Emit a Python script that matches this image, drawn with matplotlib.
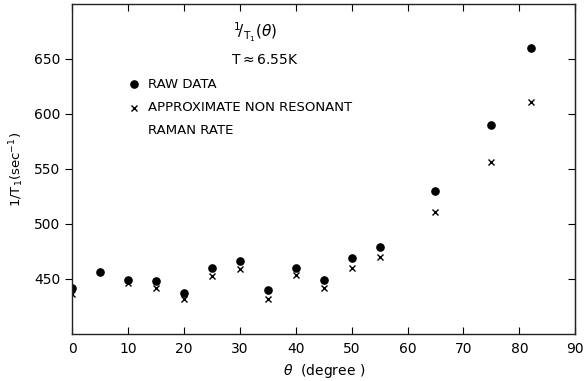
import matplotlib
matplotlib.use('Agg')
import matplotlib.pyplot as plt

# values
theta_raw = [0, 5, 10, 15, 20, 25, 30, 35, 40, 45, 50, 55, 65, 75, 82]
rate_raw = [442, 456, 449, 448, 437.5, 460, 466, 440, 460, 449, 469, 479, 530, 590, 660]

theta_raman = [0, 10, 15, 20, 25, 30, 35, 40, 45, 50, 55, 65, 75, 82]
rate_raman = [436, 446, 442, 432, 453, 459.5, 432, 454, 441.5, 460, 470, 510.5, 556.7, 611]

xticks = [0, 10, 20, 30, 40, 50, 60, 70, 80, 90]
yticks = [450, 500, 550, 600, 650]

plt.rcParams['font.family'] = ['DejaVu Sans']
plt.rcParams['mathtext.fontset'] = 'dejavusans'

fig = plt.figure(figsize=(5.87, 3.81), dpi=100)
ax = fig.add_axes([0.1227, 0.1234, 0.8573, 0.8661])

ax.plot(theta_raw, rate_raw, 'o', color='black', markersize=5.2, linestyle='none')
ax.plot(theta_raman, rate_raman, 'x', color='black', markersize=4, markeredgewidth=1.0, linestyle='none')

ax.set_xlim(0, 90)
ax.set_ylim(400, 700)
ax.set_xticks(xticks)
ax.set_yticks(yticks)
ax.tick_params(axis='x', direction='in', top=True, length=5, labelsize=10, pad=6)
ax.tick_params(axis='y', direction='out', length=5, labelsize=10)

# right side ticks point inward
right = ax.secondary_yaxis('right')
right.set_yticks(yticks)
right.tick_params(direction='in', length=5, labelright=False)

for sp in ax.spines.values():
    sp.set_linewidth(1.0)
    sp.set_color('#222222')

ax.set_xlabel(r'$\theta$  (degree )', fontsize=10, labelpad=4)
ax.set_ylabel(r'1/T$_1$(sec$^{-1}$)', fontsize=9.5, labelpad=6)

ax.text(0.32, 0.915, r'$^{1}\!/_{\mathrm{T}_1}(\theta)$', transform=ax.transAxes, fontsize=11, va='center')
ax.text(0.315, 0.83, r'T$\approx$6.55K', transform=ax.transAxes, fontsize=10, va='center')

ax.plot([0.123], [0.757], 'o', color='black', markersize=5.2, transform=ax.transAxes)
ax.text(0.151, 0.757, 'RAW DATA', transform=ax.transAxes, fontsize=9.5, va='center')
ax.plot([0.123], [0.685], 'x', color='black', markersize=4, markeredgewidth=1.0, transform=ax.transAxes)
ax.text(0.151, 0.685, 'APPROXIMATE NON RESONANT', transform=ax.transAxes, fontsize=9.5, va='center')
ax.text(0.151, 0.618, 'RAMAN RATE', transform=ax.transAxes, fontsize=9.5, va='center')

fig.savefig('out.png', dpi=100)
